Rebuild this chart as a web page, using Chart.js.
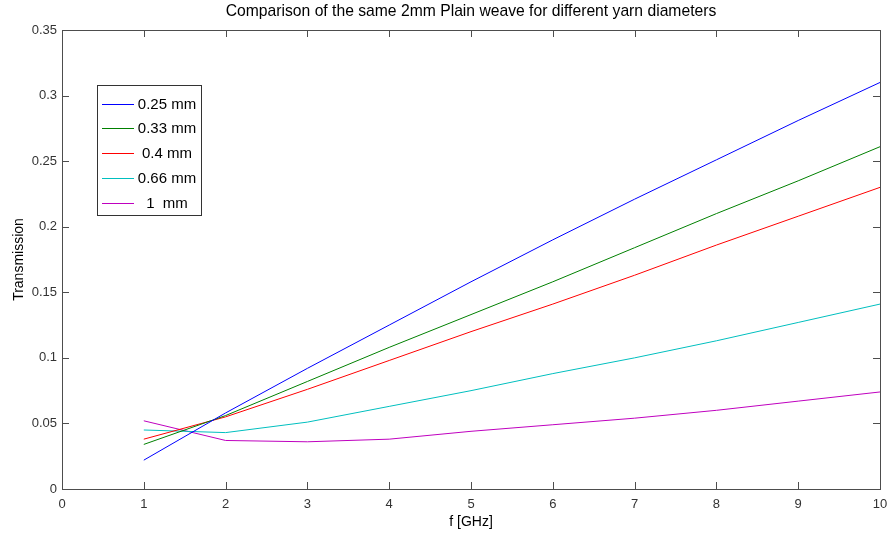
<!DOCTYPE html>
<html lang="en">
<head>
<meta charset="UTF-8">
<title>Plain weave transmission</title>
<script src="https://cdn.jsdelivr.net/npm/chart.js@4.4.1/dist/chart.umd.min.js"></script>
<style>
    body { margin: 0; background: #ffffff; }
    #wrap { width: 888px; height: 535px; }
</style>
</head>
<body>
<div id="wrap"><canvas id="chart" width="888" height="535"></canvas></div>
<script>
// frequencies in GHz
const freqs = [1, 2, 3, 4, 5, 6, 7, 8, 9, 10];

// transmission per yarn diameter
const t025 = [0.022, 0.058, 0.092, 0.125, 0.158, 0.190, 0.221, 0.251, 0.281, 0.310];
const t033 = [0.034, 0.056, 0.082, 0.108, 0.133, 0.158, 0.184, 0.210, 0.235, 0.261];
const t040 = [0.038, 0.055, 0.076, 0.098, 0.120, 0.141, 0.163, 0.186, 0.208, 0.230];
const t066 = [0.045, 0.043, 0.051, 0.063, 0.075, 0.088, 0.100, 0.113, 0.127, 0.141];
const t100 = [0.052, 0.037, 0.036, 0.038, 0.044, 0.049, 0.054, 0.060, 0.067, 0.074];

const seriesNames = ['0.25 mm', '0.33 mm', '0.4 mm', '0.66 mm', '1  mm'];
const seriesColors = ['#0000ff', '#008000', '#ff0000', '#00bfbf', '#bf00bf'];

const xTicks = [0, 1, 2, 3, 4, 5, 6, 7, 8, 9, 10];
const yTicks = ['0', '0.05', '0.1', '0.15', '0.2', '0.25', '0.3', '0.35'];

const font = 'Liberation Sans, Arial, Helvetica, sans-serif';

function pts(vals) {
    return freqs.map((f, i) => ({ x: f, y: vals[i] }));
}

// matlab-like box, inward ticks, title and legend
const matlabBox = {
    id: 'matlabBox',
    afterDraw(chart) {
        const ctx = chart.ctx;
        const a = chart.chartArea;
        const xs = chart.scales.x, ys = chart.scales.y;
        ctx.save();
        ctx.strokeStyle = '#4d4d4d';
        ctx.lineWidth = 1;
        ctx.strokeRect(Math.round(a.left) + 0.5, Math.round(a.top) + 0.5,
            Math.round(a.right - a.left), Math.round(a.bottom - a.top));

        ctx.beginPath();
        const tl = 7;
        xTicks.forEach(v => {
            const px = Math.round(xs.getPixelForValue(v)) + 0.5;
            ctx.moveTo(px, a.bottom); ctx.lineTo(px, a.bottom - tl);
            ctx.moveTo(px, a.top); ctx.lineTo(px, a.top + tl);
        });
        yTicks.forEach(v => {
            const py = Math.round(ys.getPixelForValue(parseFloat(v))) + 0.5;
            ctx.moveTo(a.left, py); ctx.lineTo(a.left + tl, py);
            ctx.moveTo(a.right, py); ctx.lineTo(a.right - tl, py);
        });
        ctx.stroke();

        // title
        ctx.fillStyle = '#000000';
        ctx.font = '15.7px ' + font;
        ctx.textAlign = 'center';
        ctx.textBaseline = 'middle';
        ctx.fillText('Comparison of the same 2mm Plain weave for different yarn diameters', 471, 12);

        // legend
        const lx = 97.5, ly = 85.5, lw = 104, lh = 130;
        ctx.fillStyle = '#ffffff';
        ctx.fillRect(lx, ly, lw, lh);
        ctx.strokeStyle = '#333333';
        ctx.strokeRect(lx, ly, lw, lh);
        ctx.font = '15px ' + font;
        seriesNames.forEach((name, i) => {
            const ry = 103.5 + i * 24.8;
            ctx.strokeStyle = seriesColors[i];
            ctx.beginPath();
            ctx.moveTo(102, Math.round(ry) + 0.5);
            ctx.lineTo(134, Math.round(ry) + 0.5);
            ctx.stroke();
            ctx.fillStyle = '#000000';
            ctx.fillText(name, 167, ry + 1);
        });
        ctx.restore();
    }
};

new Chart(document.getElementById('chart'), {
    type: 'line',
    data: {
        datasets: [t025, t033, t040, t066, t100].map((vals, i) => ({
            label: seriesNames[i],
            data: pts(vals),
            borderColor: seriesColors[i],
            backgroundColor: seriesColors[i],
            borderWidth: 1,
            pointRadius: 0,
            tension: 0,
            fill: false
        }))
    },
    options: {
        responsive: false,
        animation: false,
        layout: { padding: { top: 30, right: 8, left: 0, bottom: 0 } },
        plugins: {
            legend: { display: false },
            tooltip: { enabled: false },
            title: { display: false }
        },
        scales: {
            x: {
                type: 'linear',
                min: 0,
                max: 10,
                afterFit: s => { s.height = 46; s.paddingLeft = 0; s.paddingRight = 0; },
                afterBuildTicks: s => { s.ticks = xTicks.map(v => ({ value: v })); },
                grid: { display: false, drawTicks: false },
                border: { display: false },
                ticks: {
                    padding: 8,
                    color: '#333333',
                    font: { family: font, size: 13 },
                    maxRotation: 0,
                    callback: v => String(v)
                },
                title: {
                    display: true,
                    text: 'f [GHz]',
                    color: '#000000',
                    font: { family: font, size: 14 },
                    padding: { top: 0, bottom: 4 }
                }
            },
            y: {
                type: 'linear',
                min: 0,
                max: 0.35,
                afterFit: s => { s.width = 62; s.paddingTop = 0; s.paddingBottom = 0; },
                afterBuildTicks: s => { s.ticks = yTicks.map(v => ({ value: parseFloat(v) })); },
                grid: { display: false, drawTicks: false },
                border: { display: false },
                ticks: {
                    padding: 5,
                    color: '#333333',
                    font: { family: font, size: 13 },
                    callback: (v, i) => yTicks[i]
                },
                title: {
                    display: true,
                    text: 'Transmission',
                    color: '#000000',
                    font: { family: font, size: 14 },
                    padding: { top: 11, bottom: 0 }
                }
            }
        }
    },
    plugins: [matlabBox]
});
</script>
</body>
</html>
